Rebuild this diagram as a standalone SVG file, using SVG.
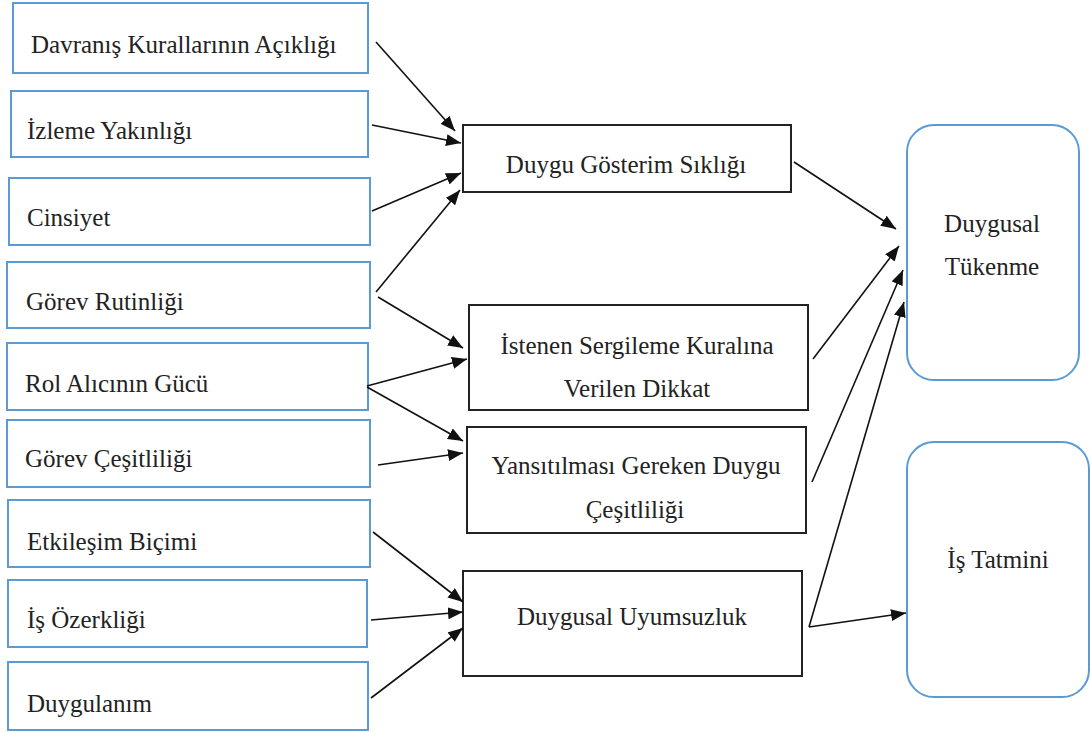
<svg xmlns="http://www.w3.org/2000/svg" width="1090" height="732" viewBox="0 0 1090 732">
<style>
  .lbox { fill: #ffffff; stroke: #5B9BD5; stroke-width: 2; }
  .mbox { fill: #ffffff; stroke: #222222; stroke-width: 2; }
  .rbox { fill: #ffffff; stroke: #5B9BD5; stroke-width: 2; }
  text { font-family: 'Liberation Serif', 'Times New Roman', serif; font-size: 25px; fill: #222222; }
  .c { text-anchor: middle; }
  .edge { stroke: #111111; stroke-width: 1.6; fill: none; marker-end: url(#arr); }
</style>
<defs>
  <marker id="arr" markerUnits="userSpaceOnUse" markerWidth="15" markerHeight="12" refX="15" refY="6" orient="auto">
    <path d="M0,0 L15,6 L0,12 z" fill="#111111"/>
  </marker>
</defs>
<rect x="0" y="0" width="1090" height="732" fill="#ffffff"/>

<g id="n1"><rect class="lbox" x="13" y="3" width="355" height="70"/><text x="31" y="53">Davranış Kurallarının Açıklığı</text></g>
<g id="n2"><rect class="lbox" x="11" y="91" width="357" height="66"/><text x="27" y="139">İzleme Yakınlığı</text></g>
<g id="n3"><rect class="lbox" x="9" y="178" width="361" height="67"/><text x="27" y="226">Cinsiyet</text></g>
<g id="n4"><rect class="lbox" x="7" y="262" width="363" height="66"/><text x="26" y="310">Görev Rutinliği</text></g>
<g id="n5"><rect class="lbox" x="7" y="343" width="361" height="67"/><text x="25" y="392">Rol Alıcının Gücü</text></g>
<g id="n6"><rect class="lbox" x="7" y="420" width="363" height="67"/><text x="25" y="467">Görev Çeşitliliği</text></g>
<g id="n7"><rect class="lbox" x="8" y="500" width="362" height="67"/><text x="27" y="550">Etkileşim Biçimi</text></g>
<g id="n8"><rect class="lbox" x="8" y="580" width="359" height="67"/><text x="27" y="628">İş Özerkliği</text></g>
<g id="n9"><rect class="lbox" x="8" y="662" width="360" height="68"/><text x="27" y="712">Duygulanım</text></g>

<g id="m1"><rect class="mbox" x="463" y="125" width="328" height="67"/><text class="c" x="626" y="173">Duygu Gösterim Sıklığı</text></g>
<g id="m2"><rect class="mbox" x="469" y="305" width="339" height="105"/><text class="c" x="637" y="354">İstenen Sergileme Kuralına</text><text class="c" x="637" y="397">Verilen Dikkat</text></g>
<g id="m3"><rect class="mbox" x="467" y="427" width="339" height="106"/><text class="c" x="636" y="474">Yansıtılması Gereken Duygu</text><text class="c" x="635" y="518">Çeşitliliği</text></g>
<g id="m4"><rect class="mbox" x="463" y="571" width="339" height="105"/><text class="c" x="632" y="625">Duygusal Uyumsuzluk</text></g>

<g id="r1"><rect class="rbox" x="907" y="125" width="172" height="255" rx="27" ry="27"/><text class="c" x="992" y="232">Duygusal</text><text class="c" x="992" y="275">Tükenme</text></g>
<g id="r2"><rect class="rbox" x="907" y="442" width="182" height="255" rx="27" ry="27"/><text class="c" x="998" y="568">İş Tatmini</text></g>

<g id="connectors">
  <line class="edge" x1="376" y1="42" x2="455" y2="131"/>
  <line class="edge" x1="372" y1="125" x2="461" y2="143"/>
  <line class="edge" x1="372" y1="211" x2="461" y2="173"/>
  <line class="edge" x1="376" y1="292" x2="460" y2="190"/>
  <line class="edge" x1="378" y1="297" x2="463" y2="348"/>
  <line class="edge" x1="367" y1="386" x2="467" y2="359"/>
  <line class="edge" x1="367" y1="387" x2="463" y2="441"/>
  <line class="edge" x1="378" y1="465" x2="463" y2="453"/>
  <line class="edge" x1="373" y1="532" x2="463" y2="602"/>
  <line class="edge" x1="371" y1="620" x2="463" y2="612"/>
  <line class="edge" x1="371" y1="698" x2="463" y2="628"/>
  <line class="edge" x1="794" y1="162" x2="896" y2="229"/>
  <line class="edge" x1="813" y1="359" x2="899" y2="246"/>
  <line class="edge" x1="812" y1="482" x2="903" y2="270"/>
  <line class="edge" x1="809" y1="627" x2="904" y2="302"/>
  <line class="edge" x1="809" y1="627" x2="906" y2="613"/>
</g>
</svg>
